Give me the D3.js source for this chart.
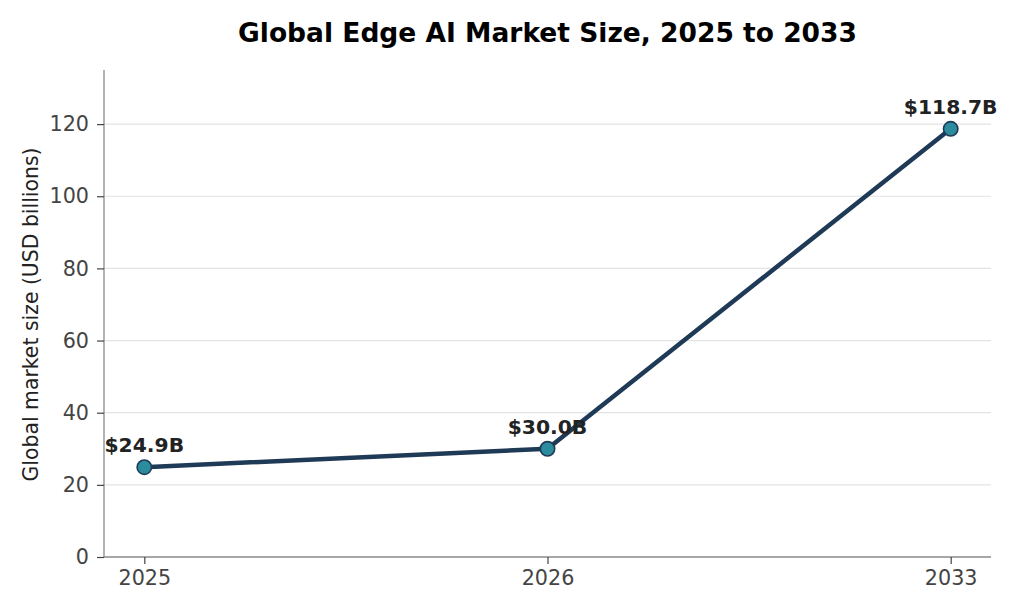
<!DOCTYPE html>
<html><head><meta charset="utf-8">
<script src="https://cdn.jsdelivr.net/npm/d3@7"></script>
<style>body{margin:0;background:#fff}svg{display:block}</style>
</head><body><svg id="c" width="1024" height="614"></svg>
<script>
const categories = ["2025", "2026", "2033"];
const values = [24.9, 30.0, 118.7];
const labels = ["$24.9B", "$30.0B", "$118.7B"];
const yTicks = [0, 20, 40, 60, 80, 100, 120];
const title = "Global Edge AI Market Size, 2025 to 2033";
const yLabel = "Global market size (USD billions)";

const svg = d3.select("#c");
const m = {l:104, r:991, t:70, b:557};
const x = d3.scalePoint().domain(categories).range([m.l, m.r]).padding(0.1);
const y = d3.scaleLinear().domain([0, 135]).range([m.b, m.t]);
const font = "DejaVu Sans, sans-serif";

// gridlines
svg.append("g").selectAll("line").data(yTicks.filter(d=>d>0)).join("line")
  .attr("x1", m.l).attr("x2", m.r).attr("y1", d=>y(d)).attr("y2", d=>y(d))
  .attr("stroke", "#e3e3e3").attr("stroke-width", 1.2);

// y axis
const ya = svg.append("g").attr("transform", `translate(${m.l},0)`)
  .call(d3.axisLeft(y).tickValues(yTicks).tickSize(7).tickPadding(8).tickSizeOuter(0));
ya.select(".domain").attr("stroke", "#8a8a8a").attr("stroke-width", 1.3)
  .attr("d", `M0,${m.t}V${m.b}`);
ya.selectAll(".tick line").attr("stroke", "#444").attr("stroke-width", 1.2);
ya.selectAll(".tick text").attr("fill", "#444").style("font-family", font).style("font-size", "20.7px");

// x axis
const xa = svg.append("g").attr("transform", `translate(0,${m.b})`)
  .call(d3.axisBottom(x).tickSize(7).tickPadding(6).tickSizeOuter(0));
xa.select(".domain").attr("stroke", "#8a8a8a").attr("stroke-width", 1.3)
  .attr("d", `M${m.l},0H${m.r}`);
xa.selectAll(".tick line").attr("stroke", "#444").attr("stroke-width", 1.2);
xa.selectAll(".tick text").attr("fill", "#444").style("font-family", font).style("font-size", "20.7px");

// line
const line = d3.line().x((d,i)=>x(categories[i])).y(d=>y(d));
svg.append("path").datum(values).attr("d", line)
  .attr("fill", "none").attr("stroke", "#1f3a56").attr("stroke-width", 4.5)
  .attr("stroke-linejoin", "round").attr("stroke-linecap", "round");

// markers
svg.append("g").selectAll("circle").data(values).join("circle")
  .attr("cx", (d,i)=>x(categories[i])).attr("cy", d=>y(d)).attr("r", 7.2)
  .attr("fill", "#2a8c9c").attr("stroke", "#1f3a56").attr("stroke-width", 1.6);

// value labels
svg.append("g").selectAll("text").data(values).join("text")
  .attr("x", (d,i)=>x(categories[i])).attr("y", d=>y(d)-15)
  .attr("text-anchor", "middle").attr("fill", "#222")
  .style("font-family", font).style("font-weight", "bold").style("font-size", "20.3px")
  .text((d,i)=>labels[i]);

// title
svg.append("text").attr("x", (m.l+m.r)/2).attr("y", 42).attr("text-anchor", "middle")
  .attr("fill", "#000").style("font-family", font).style("font-weight", "bold").style("font-size", "26.5px")
  .text(title);

// y label
svg.append("text").attr("transform", `translate(38,${(m.t+m.b)/2+1}) rotate(-90)`)
  .attr("text-anchor", "middle").attr("fill", "#222")
  .style("font-family", font).style("font-size", "20.4px").text(yLabel);
</script></body></html>
